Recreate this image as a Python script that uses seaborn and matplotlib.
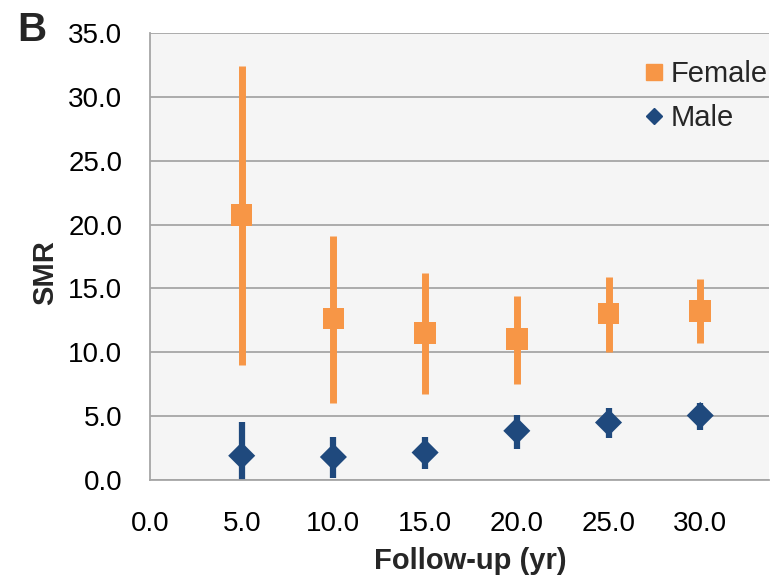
import pandas as pd
import matplotlib
matplotlib.use("Agg")
import matplotlib.pyplot as plt
import seaborn as sns
from matplotlib.lines import Line2D

# Follow-up (yr) and SMR with 95% CI
followup = [5, 10, 15, 20, 25, 30]

female_smr = [20.75, 12.65, 11.5, 11.05, 13.05, 13.25]
female_low = [9.0, 6.0, 6.7, 7.5, 10.0, 10.7]
female_high = [32.4, 19.1, 16.2, 14.4, 15.9, 15.7]

male_smr = [1.9, 1.8, 2.15, 3.85, 4.5, 5.05]
male_low = [0.0, 0.15, 0.85, 2.45, 3.25, 3.95]
male_high = [4.55, 3.4, 3.4, 5.1, 5.6, 6.0]

orange = "#F79646"
navy = "#1F497D"

df = pd.DataFrame({
    "Follow-up (yr)": followup * 2,
    "SMR": female_smr + male_smr,
    "low": female_low + male_low,
    "high": female_high + male_high,
    "sex": ["Female"] * 6 + ["Male"] * 6,
})

sns.set_style("white", {"axes.facecolor": "#F5F5F5"})
plt.rcParams["font.family"] = ["Liberation Sans", "DejaVu Sans"]

fig = plt.figure(figsize=(7.82, 5.86), dpi=100)
ax = fig.add_axes([0.1918, 0.1809, 0.7916, 0.7628])

# error bars first, so the markers sit on top
for sex, col, lw in [("Female", orange, 5.0), ("Male", navy, 4.5)]:
    d = df[df["sex"] == sex]
    ax.vlines(d["Follow-up (yr)"], d["low"], d["high"], colors=col, lw=lw, zorder=2)

sns.scatterplot(data=df, x="Follow-up (yr)", y="SMR", hue="sex", style="sex",
                palette={"Female": orange, "Male": navy},
                markers={"Female": "s", "Male": "D"},
                size="sex", sizes={"Female": 240, "Male": 190},
                linewidth=0, legend=False, ax=ax, zorder=3)

ax.set_xlim(0, 33.75)
ax.set_ylim(0, 35)
ax.set_xticks(range(0, 35, 5))
ax.set_yticks(range(0, 40, 5))
ax.set_xticklabels([f"{v:.1f}" for v in range(0, 35, 5)])
ax.set_yticklabels([f"{v:.1f}" for v in range(0, 40, 5)])
ax.tick_params(axis="both", length=0, labelsize=20, colors="black")
ax.tick_params(axis="x", pad=22)
ax.tick_params(axis="y", pad=20)

ax.grid(axis="y", color="#A6A6A6", lw=1.3)
ax.set_axisbelow(True)
for side in ["top", "right"]:
    ax.spines[side].set_visible(False)
ax.spines["left"].set_color("#A6A6A6")
ax.spines["bottom"].set_color("#A6A6A6")
ax.spines["left"].set_linewidth(1.3)
ax.spines["bottom"].set_linewidth(1.3)

ax.set_xlabel("Follow-up (yr)", fontsize=21, fontweight="bold")
ax.set_ylabel("SMR", fontsize=21, fontweight="bold")
ax.xaxis.set_label_coords(0.518, -0.15)
ax.yaxis.set_label_coords(-0.147, 0.465)

handles = [
    Line2D([], [], ls="none", marker="s", ms=12, color=orange, label="Female"),
    Line2D([], [], ls="none", marker="D", ms=8, color=navy, label="Male"),
]
ax.legend(handles=handles, loc="upper right", bbox_to_anchor=(1.016, 0.965),
          frameon=False, fontsize=21, handlelength=0.6, handletextpad=0.25,
          labelspacing=0.55, borderaxespad=0)

fig.text(0.022, 0.948, "B", fontsize=29, fontweight="bold", va="center")

fig.savefig("out.png", dpi=100)
